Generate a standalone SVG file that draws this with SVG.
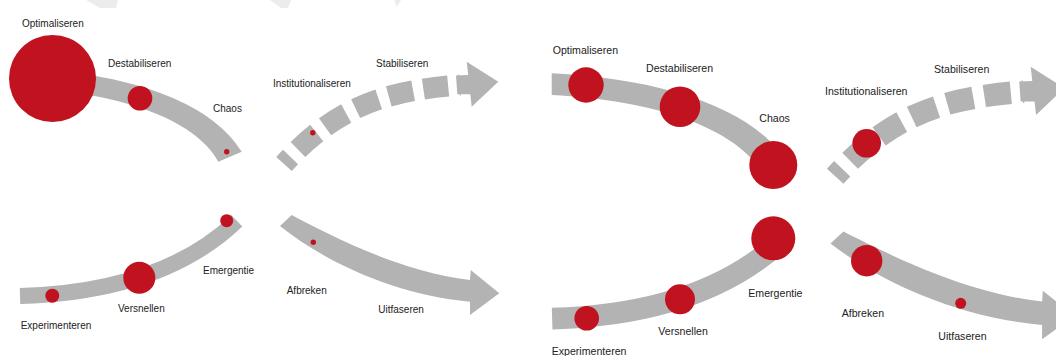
<svg xmlns="http://www.w3.org/2000/svg" width="1056" height="356" viewBox="0 0 1056 356">
  <defs>
    <style>
      .band { fill: #b3b3b3; }
      .bandS { fill: none; stroke: #b3b3b3; stroke-linecap: butt; }
      .dot { fill: #c1121f; }
      .lbl { font-family: "Liberation Sans", Arial, sans-serif; font-size: 10px; fill: #222; }
      .lblR { font-family: "Liberation Sans", Arial, sans-serif; font-size: 10.6px; fill: #222; }
      .ghost { fill: #dcdcdc; opacity: 0.55; }
    </style>
    <path id="topBand" d="M20.6,67.8 C125,73 210,100 241.7,151.7 L218.3,161.7 C195,118 115,92 20.6,87.6 Z"/>
    <path id="botBand" d="M20,296 C90,294 175,280 236.8,220.7"/>
    <path id="dashArc" d="M284,164 C339,103.5 390,90.6 460,85"/>
    <path id="dashHead" d="M456,75.5 L468.2,75 L466.7,61.7 L498.3,81.7 L471.7,106.7 L470.3,94.3 L457.3,94.3 Z"/>
    <path id="downArrow" d="M291.7,215 C330,235 400,272 470,280 L470.7,270 L499.3,293.3 L470,315 L470,301.7 C395,295 325,262 280,226 Z"/>
  </defs>
  <rect width="1056" height="356" fill="#ffffff"/>
  <g id="background-marks">
    <polygon class="ghost" points="86,0 118,0 116,8 100,8"/>
    <polygon class="ghost" points="270,0 291,0 288,8 281,8"/>
    <polygon class="ghost" points="394,0 401,0 397,7"/>
  </g>
  <g id="connectors">
    <use href="#topBand" class="band"/>
    <use href="#botBand" class="bandS" stroke-width="16"/>
    <use href="#dashArc" class="bandS" stroke-width="21" stroke-dasharray="25 10.5" stroke-dashoffset="15.5"/>
    <use href="#dashHead" class="band"/>
    <use href="#downArrow" class="band"/>
    <g transform="translate(586 85) scale(1.075 1.093) translate(-52.5 -78.5)">
      <use href="#topBand" class="band"/>
    </g>
    <g transform="translate(586.7 318.3) scale(1.07) translate(-52.3 -295.7)">
      <use href="#botBand" class="bandS" stroke-width="20.3"/>
    </g>
    <g transform="translate(924 112) scale(1.07) translate(-367 -104)">
      <use href="#dashArc" class="bandS" stroke-width="21" stroke-dasharray="25 10.5" stroke-dashoffset="15.5"/>
      <use href="#dashHead" class="band"/>
    </g>
    <g transform="translate(836 237) scale(1.114 1.076) translate(-285 -220)">
      <use href="#downArrow" class="band"/>
    </g>
  </g>
  <g id="left-optimaliseren"><circle class="dot" cx="52.5" cy="78.5" r="43.5"/><text class="lbl" x="22" y="27">Optimaliseren</text></g>
  <g id="left-destabiliseren"><circle class="dot" cx="140" cy="98.3" r="12.3"/><text class="lbl" x="108" y="67">Destabiliseren</text></g>
  <g id="left-chaos"><circle class="dot" cx="226.7" cy="151.7" r="2.7"/><text class="lbl" x="213" y="112">Chaos</text></g>
  <g id="left-institutionaliseren"><circle class="dot" cx="312.8" cy="132.8" r="2.7"/><text class="lbl" x="273" y="86.7">Institutionaliseren</text></g>
  <g id="left-stabiliseren"><text class="lbl" x="376" y="66.7">Stabiliseren</text></g>
  <g id="left-emergentie"><circle class="dot" cx="226.7" cy="220.7" r="6.5"/><text class="lbl" x="203" y="274">Emergentie</text></g>
  <g id="left-versnellen"><circle class="dot" cx="139.3" cy="277.7" r="16"/><text class="lbl" x="118" y="311.7">Versnellen</text></g>
  <g id="left-experimenteren"><circle class="dot" cx="52.3" cy="295.7" r="7"/><text class="lbl" x="20.7" y="329.3">Experimenteren</text></g>
  <g id="left-afbreken"><circle class="dot" cx="313.3" cy="242.3" r="2.7"/><text class="lbl" x="286.7" y="294">Afbreken</text></g>
  <g id="left-uitfaseren"><text class="lbl" x="378.3" y="313.3">Uitfaseren</text></g>

  <g id="right-optimaliseren"><circle class="dot" cx="586" cy="85" r="17.7"/><text class="lblR" x="552.7" y="54">Optimaliseren</text></g>
  <g id="right-destabiliseren"><circle class="dot" cx="680" cy="106.7" r="20.3"/><text class="lblR" x="646" y="71.7">Destabiliseren</text></g>
  <g id="right-chaos"><circle class="dot" cx="773.3" cy="165" r="24"/><text class="lblR" x="759.3" y="121.7">Chaos</text></g>
  <g id="right-institutionaliseren"><circle class="dot" cx="866.7" cy="143.3" r="14.3"/><text class="lblR" x="825" y="95">Institutionaliseren</text></g>
  <g id="right-stabiliseren"><text class="lblR" x="934" y="73.3">Stabiliseren</text></g>
  <g id="right-emergentie"><circle class="dot" cx="773.3" cy="238.3" r="22"/><text class="lblR" x="748.3" y="296.7">Emergentie</text></g>
  <g id="right-versnellen"><circle class="dot" cx="680" cy="299.3" r="15"/><text class="lblR" x="658.3" y="335">Versnellen</text></g>
  <g id="right-experimenteren"><circle class="dot" cx="586.7" cy="318.3" r="12.3"/><text class="lblR" x="551.7" y="355">Experimenteren</text></g>
  <g id="right-afbreken"><circle class="dot" cx="866.7" cy="260.7" r="15.7"/><text class="lblR" x="841.7" y="316.7">Afbreken</text></g>
  <g id="right-uitfaseren"><circle class="dot" cx="960.7" cy="303.3" r="5.5"/><text class="lblR" x="938.3" y="340">Uitfaseren</text></g>
</svg>
